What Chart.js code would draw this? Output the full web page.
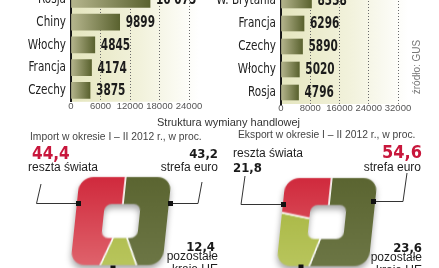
<!DOCTYPE html>
<html lang="pl">
<head>
<meta charset="utf-8">
<title>Struktura wymiany handlowej</title>
<script src="https://cdn.jsdelivr.net/npm/chart.js@4.4.1/dist/chart.umd.min.js"></script>
<style>
  html, body { margin: 0; padding: 0; background: #fff; }
  body { position: relative; width: 439px; height: 268px; overflow: hidden;
         font-family: "Liberation Sans", Arial, sans-serif; color: #222; }
  .wrap { position: absolute; }
  .t { position: absolute; white-space: pre; line-height: 1; z-index: 3; }
  .light { color: #444; font-size: 10.3px; }
  .lbl { font-size: 12px; color: #1e1e1e; line-height: 13px; }
  .num { font-family: "DejaVu Sans Condensed", "DejaVu Sans", sans-serif; font-stretch: condensed;
         font-weight: bold; font-size: 13px; color: #1a1a1a; }
  .big { color: #c8173c; }
  .r { text-align: right; }
  canvas.ring { position: absolute; transform: skewX(-6deg); filter: drop-shadow(0 4px 3px rgba(0,0,0,0.35)); z-index: 1; }
  svg { position: absolute; left: 0; top: 0; z-index: 2; }
  #src { left: 417px; top: 67px; transform: translate(-50%, -50%) rotate(-90deg); font-size: 10px; color: #777; }
</style>
</head>
<body>
<div class="wrap" id="importBarsWrap" style="left:0;top:-14px;width:205px;height:128px"><canvas id="importBars"></canvas></div>
<div class="wrap" id="exportBarsWrap" style="left:210px;top:-14px;width:204px;height:128px"><canvas id="exportBars"></canvas></div>
<div class="t" id="src">źródło: GUS</div>

<div class="t" style="left:157px;top:116.5px;font-size:11px;color:#333">Struktura wymiany handlowej</div>
<div class="t light" style="left:30px;top:132px">Import w okresie I – II 2012 r., w proc.</div>
<div class="t light" style="left:238px;top:130px">Eksport w okresie I – II 2012 r., w proc.</div>

<canvas class="ring" id="importRing" width="140" height="140" style="left:51px;top:151px"></canvas>
<canvas class="ring" id="exportRing" width="140" height="140" style="left:257px;top:152px"></canvas>

<svg width="439" height="268">
  <g stroke="#333" stroke-width="1" fill="none">
    <polyline points="41,184 36.5,203.5 78,203.5"/>
    <polyline points="170,203.5 198,203.5 202,182"/>
    <polyline points="113,268 113,280"/>
    <polyline points="245,176 241,204.5 283,204.5"/>
    <polyline points="373,201.5 403,201.5 407,173"/>
    <polyline points="301,267 301,280"/>
  </g>
  <g fill="#111">
    <rect x="76" y="201" width="5" height="5"/>
    <rect x="168" y="201" width="5" height="5"/>
    <rect x="110.5" y="265.5" width="5" height="5"/>
    <rect x="281" y="202" width="5" height="5"/>
    <rect x="371" y="199" width="5" height="5"/>
    <rect x="298.5" y="264.5" width="5" height="5"/>
  </g>
</svg>

<!-- import shares -->
<div class="t num big" data-set="import" data-i="2" style="left:32px;top:145px;font-size:17px"></div>
<div class="t lbl" data-name="2" style="left:28px;top:160.5px"></div>
<div class="t num r" data-set="import" data-i="0" style="right:221px;top:147px"></div>
<div class="t lbl r" data-name="0" style="right:221px;top:160.5px"></div>
<div class="t num r" data-set="import" data-i="1" style="right:224px;top:240px"></div>
<div class="t lbl r" data-name="1" style="right:221px;top:250.2px"></div>

<!-- export shares -->
<div class="t lbl" data-name="2" style="left:233px;top:147px"></div>
<div class="t num" data-set="export" data-i="2" style="left:233px;top:161px"></div>
<div class="t num big r" data-set="export" data-i="0" style="right:17px;top:143px;font-size:18px"></div>
<div class="t lbl r" data-name="0" style="right:18px;top:160.5px"></div>
<div class="t num r" data-set="export" data-i="1" style="right:17px;top:241px"></div>
<div class="t lbl r" data-name="1" style="right:17px;top:250.5px"></div>

<script>
// bar charts: value of trade with top partners, I-II 2012
const importCountries = ['Rosja', 'Chiny', 'Włochy', 'Francja', 'Czechy'];
const importValues = [16075, 9899, 4845, 4174, 3875];
const importTicks = [0, 6000, 12000, 18000, 24000];

const exportCountries = ['W. Brytania', 'Francja', 'Czechy', 'Włochy', 'Rosja'];
const exportValues = [8338, 6296, 5890, 5020, 4796];
const exportTicks = [0, 8000, 16000, 24000, 32000];

// structure, in percent (clockwise from the top)
const shareLabels = ['strefa euro', 'pozostałe\nkraje UE', 'reszta świata'];
const importShares = [43.2, 12.4, 44.4];
const exportShares = [54.6, 23.6, 21.8];

const SANS = '"Liberation Sans", Arial, sans-serif';
const COND = '"DejaVu Sans Condensed", "DejaVu Sans", sans-serif';

const sliceTop = ['#5b6531', '#a4b33d', '#d02a3d'];
const sliceBottom = ['#6c7645', '#b8c55c', '#df626b'];

function fmtThousands(v) {
    const s = String(v);
    return v >= 10000 ? s.replace(/\B(?=(\d{3})+(?!\d))/g, ' ') : s;
}

function fmtShare(v) {
    return v.toFixed(1).replace('.', ',');
}

function barFill(c) {
    const x = c.chart.scales.x;
    if (!x || c.type !== 'data') return '#6b7340';
    const x0 = x.getPixelForValue(0);
    const x1 = x.getPixelForValue(c.raw);
    if (!Number.isFinite(x0) || !Number.isFinite(x1)) return '#6b7340';
    const g = c.chart.ctx.createLinearGradient(x0, 0, Math.max(x1, x0 + 1), 0);
    g.addColorStop(0, '#b6b68e');
    g.addColorStop(1, '#5a622f');
    return g;
}

function sliceFill(c) {
    const a = c.chart.chartArea;
    const i = c.dataIndex;
    if (!a || !Number.isFinite(a.top) || !Number.isFinite(a.bottom)) return sliceTop[i];
    const g = c.chart.ctx.createLinearGradient(0, a.top + 26, 0, a.bottom - 26);
    g.addColorStop(0, sliceTop[i]);
    g.addColorStop(1, sliceBottom[i]);
    return g;
}

// condensed text: the picture uses a narrow face that is not installed
function narrowText(ctx, text, x, y, squeeze) {
    ctx.save();
    ctx.translate(x, y);
    ctx.scale(squeeze, 1);
    ctx.fillText(text, 0, 0);
    ctx.restore();
}

const plotBg = {
    id: 'plotBg',
    beforeDraw(chart) {
        const { ctx, chartArea: a } = chart;
        const g = ctx.createLinearGradient(a.left, 0, a.right + 10, 0);
        g.addColorStop(0, '#e5e6bf');
        g.addColorStop(0.55, '#f2f2dc');
        g.addColorStop(1, '#ffffff');
        ctx.save();
        ctx.fillStyle = g;
        ctx.fillRect(a.left, a.top, a.right - a.left + 10, a.bottom - a.top);
        ctx.restore();
    }
};

const catLabels = {
    id: 'catLabels',
    afterDraw(chart) {
        const { ctx, chartArea } = chart;
        const y = chart.scales.y;
        ctx.save();
        ctx.font = '14px ' + COND;
        ctx.fillStyle = '#222';
        ctx.textAlign = 'right';
        ctx.textBaseline = 'middle';
        chart.data.labels.forEach((lab, i) => {
            narrowText(ctx, lab, chartArea.left - 5, y.getPixelForTick(i), 0.83);
        });
        ctx.restore();
    }
};

const valueLabels = {
    id: 'valueLabels',
    afterDatasetsDraw(chart) {
        const { ctx } = chart;
        const values = chart.data.datasets[0].data;
        ctx.save();
        ctx.font = 'bold 15px ' + COND;
        ctx.fillStyle = '#1c1c1c';
        ctx.textBaseline = 'middle';
        chart.getDatasetMeta(0).data.forEach((bar, i) => {
            narrowText(ctx, fmtThousands(values[i]), bar.x + 6, bar.y + 1, 0.78);
        });
        ctx.restore();
    }
};

const ringClip = {
    id: 'ringClip',
    beforeDatasetsDraw(chart) {
        const { ctx } = chart;
        const m = chart.getDatasetMeta(0).data[0];
        ctx.save();
        ctx.beginPath();
        ctx.roundRect(m.x - 46, m.y - 44, 92, 88, 14);
        ctx.roundRect(m.x - 18, m.y - 17, 36, 34, 7);
        ctx.clip('evenodd');
    },
    afterDatasetsDraw(chart) {
        chart.ctx.restore();
    }
};

function makeBars(id, cats, values, ticks, thickness) {
    return new Chart(document.getElementById(id), {
        type: 'bar',
        data: { labels: cats, datasets: [{ data: values, backgroundColor: barFill, borderWidth: 0, barThickness: thickness }] },
        options: {
            indexAxis: 'y',
            responsive: true,
            maintainAspectRatio: false,
            animation: false,
            events: [],
            layout: { padding: { top: 0, right: 16, bottom: 0, left: 0 } },
            plugins: { legend: { display: false }, tooltip: { enabled: false } },
            scales: {
                x: {
                    min: ticks[0],
                    max: ticks[ticks.length - 1],
                    afterBuildTicks: s => { s.ticks = ticks.map(v => ({ value: v })); },
                    afterFit: s => { s.height = 13; },
                    ticks: { color: '#555', padding: -1.5, maxRotation: 0, autoSkip: false,
                             font: { family: SANS, size: 9.5 }, callback: v => String(v) },
                    grid: { color: c => (c.tick && c.tick.value === 0) ? 'rgba(0,0,0,0)' : '#6a6a6a',
                            lineWidth: 1, drawTicks: false, tickLength: 0 },
                    border: { display: false, dash: [1, 2] }
                },
                y: {
                    afterFit: s => { s.width = 71; },
                    ticks: { display: false },
                    grid: { display: false, drawTicks: false, tickLength: 0 },
                    border: { display: true, color: '#1a1a1a', width: 2 }
                }
            }
        },
        plugins: [plotBg, valueLabels, catLabels]
    });
}

function makeRing(id, values) {
    return new Chart(document.getElementById(id), {
        type: 'pie',
        data: { labels: shareLabels, datasets: [{ data: values, backgroundColor: sliceFill, borderColor: '#ffffff', borderWidth: 1.5 }] },
        options: {
            responsive: false,
            animation: false,
            events: [],
            layout: { padding: 0 },
            plugins: { legend: { display: false }, tooltip: { enabled: false } }
        },
        plugins: [ringClip]
    });
}

// move/resize the wrapper so the plot area lands where the picture has it
function place(chart, wrapId, left, top, width, height) {
    const wrap = document.getElementById(wrapId);
    let a = chart.chartArea;
    wrap.style.width = (wrap.clientWidth + width - (a.right - a.left)) + 'px';
    wrap.style.height = (wrap.clientHeight + height - (a.bottom - a.top)) + 'px';
    chart.resize();
    a = chart.chartArea;
    wrap.style.left = (left - a.left) + 'px';
    wrap.style.top = (top - a.top) + 'px';
}

const importChart = makeBars('importBars', importCountries, importValues, importTicks, 16);
const exportChart = makeBars('exportBars', exportCountries, exportValues, exportTicks, 15);
place(importChart, 'importBarsWrap', 71, -12.4, 118, 113.8);
place(exportChart, 'exportBarsWrap', 281, -11.5, 117, 115);

makeRing('importRing', importShares);
makeRing('exportRing', exportShares);

const shares = { import: importShares, export: exportShares };
document.querySelectorAll('[data-set]').forEach(el => {
    el.textContent = fmtShare(shares[el.dataset.set][+el.dataset.i]);
});
document.querySelectorAll('[data-name]').forEach(el => {
    el.textContent = shareLabels[+el.dataset.name];
});
</script>
</body>
</html>
